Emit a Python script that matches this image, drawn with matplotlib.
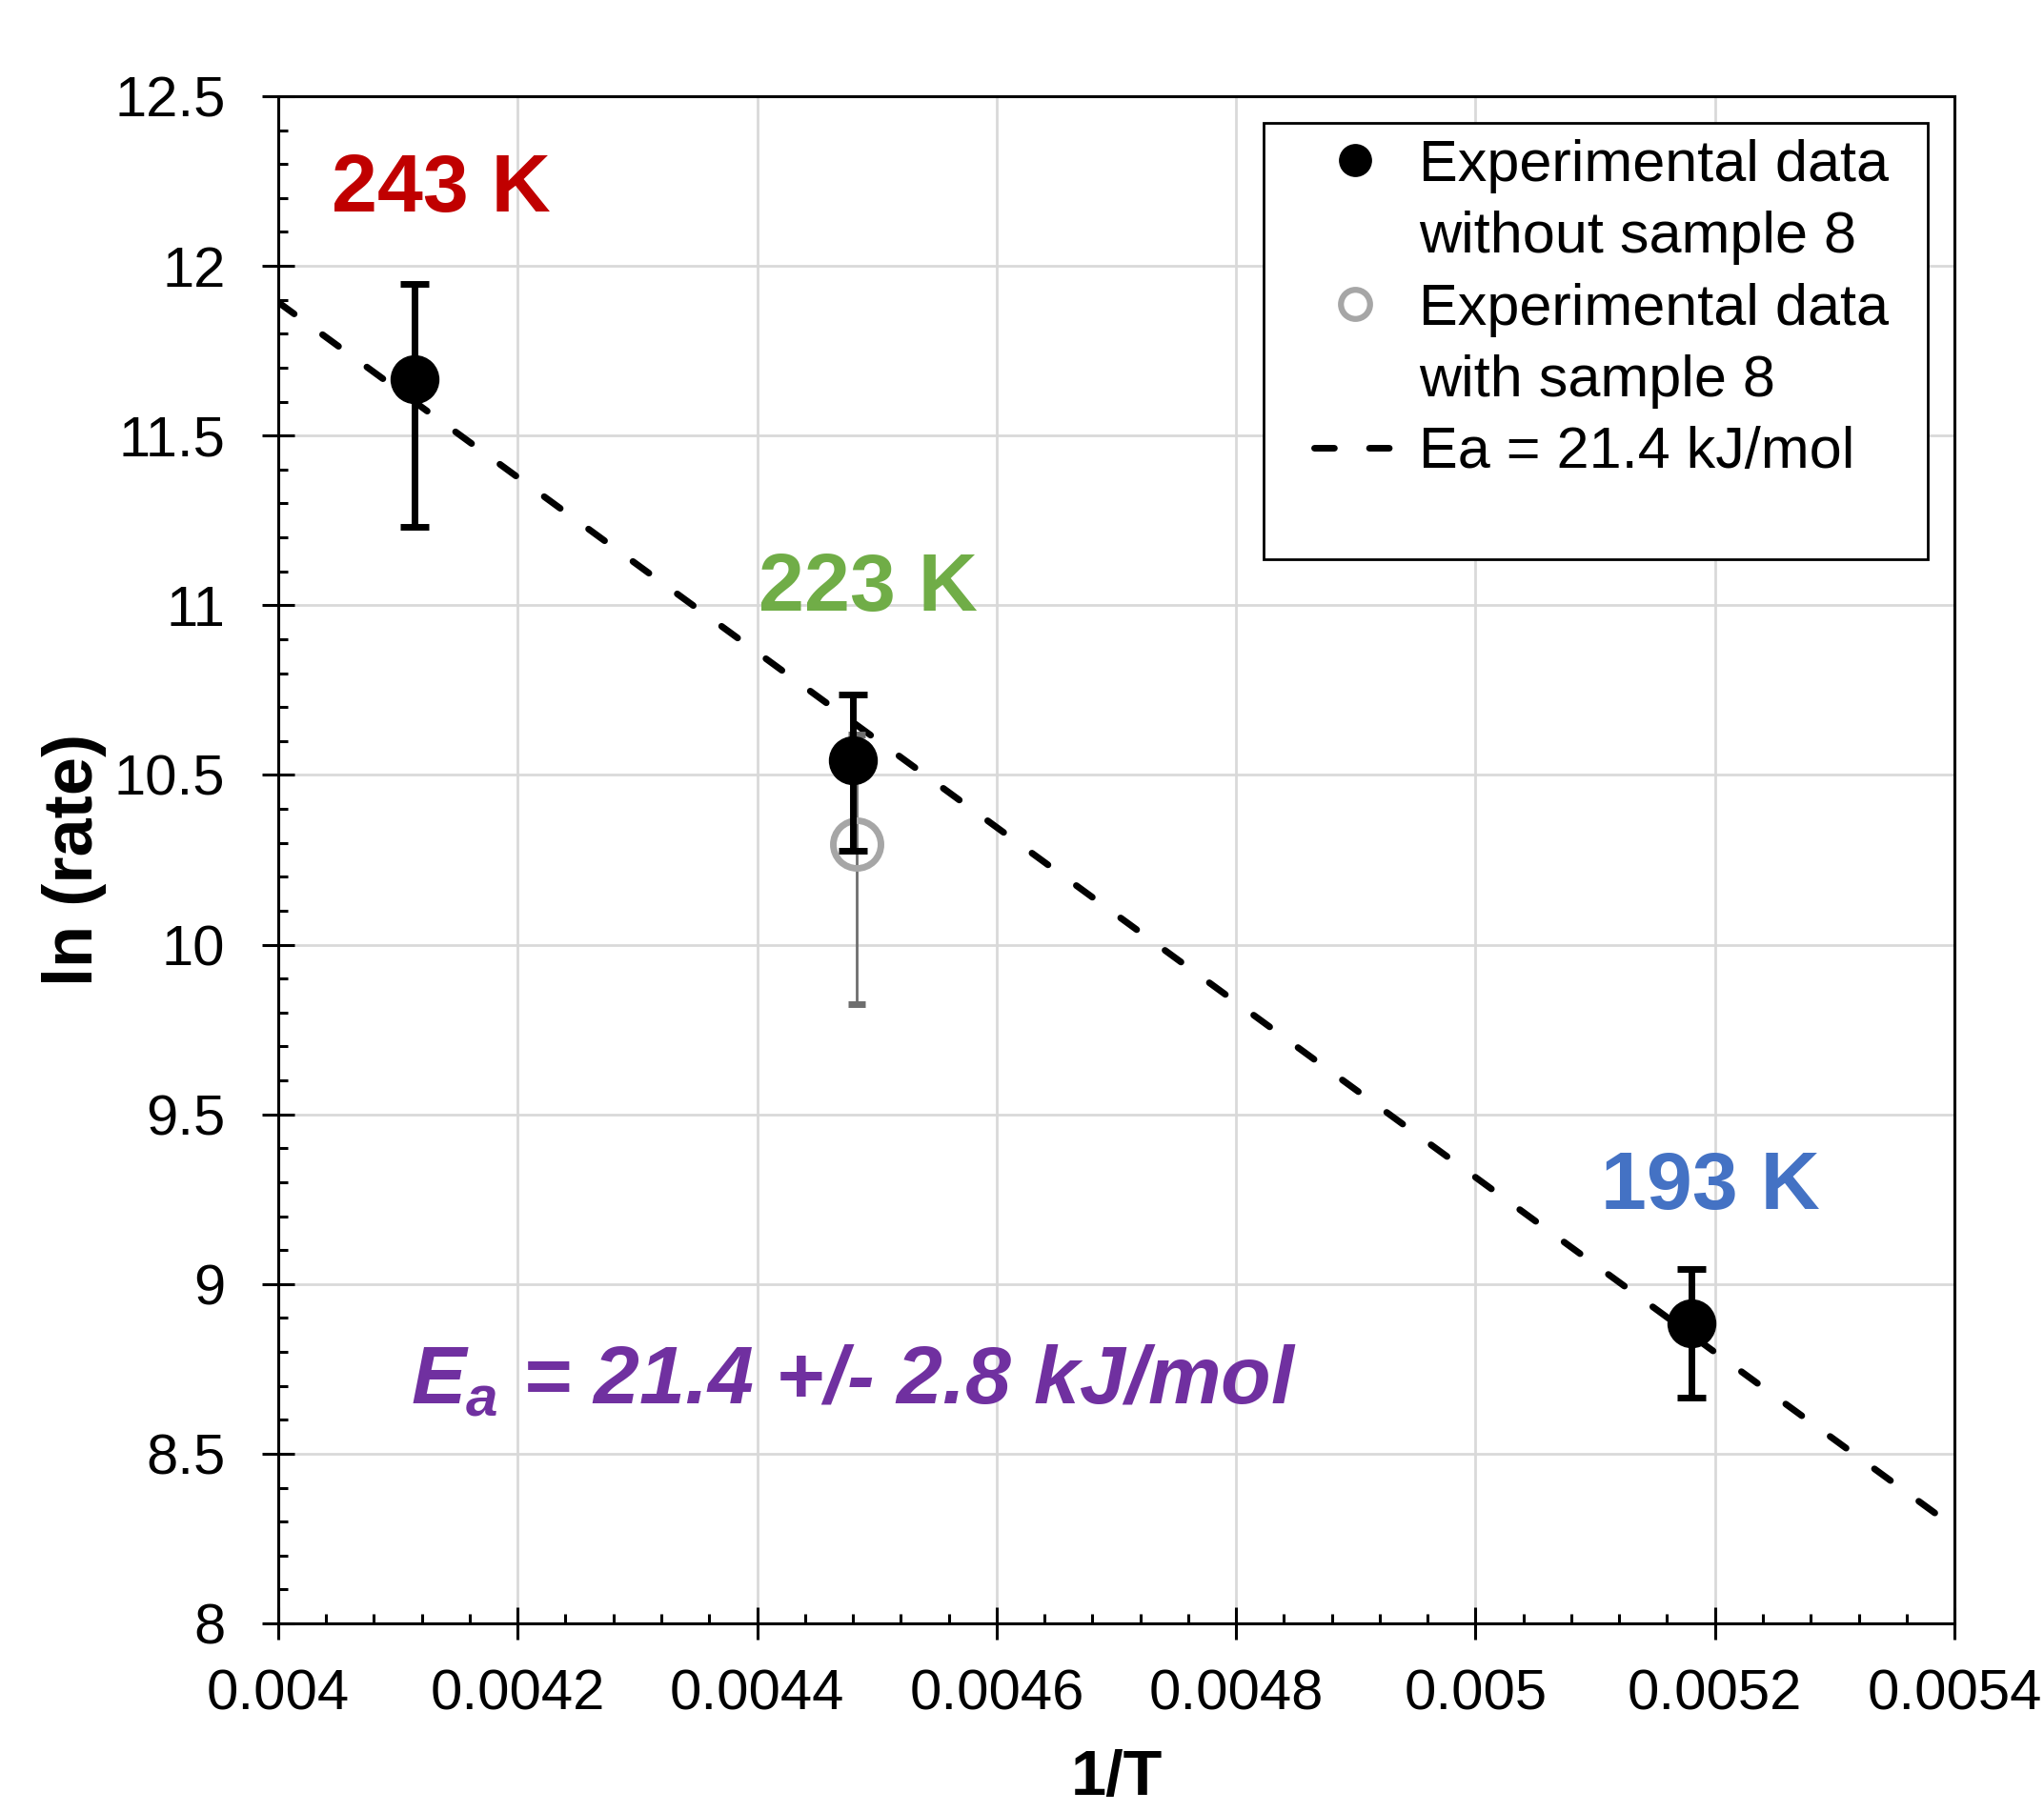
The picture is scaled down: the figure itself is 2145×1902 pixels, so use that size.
import matplotlib
matplotlib.use('Agg')
from matplotlib import pyplot as plt
from matplotlib.ticker import MultipleLocator, FuncFormatter
from matplotlib.patches import Rectangle
from matplotlib.lines import Line2D

plt.rcParams['font.family'] = 'Liberation Sans'
plt.rcParams['mathtext.fontset'] = 'custom'
plt.rcParams['mathtext.it'] = 'Liberation Sans:italic:bold'
plt.rcParams['mathtext.rm'] = 'Liberation Sans:bold'
plt.rcParams['mathtext.bf'] = 'Liberation Sans:bold'

# Experimental data without sample 8 (243 K, 223 K, 193 K)
inv_T = [0.004114, 0.00448, 0.00518]
ln_rate = [11.665, 10.542, 8.884]
err_lo = [0.435, 0.264, 0.218]
err_hi = [0.281, 0.194, 0.161]

# 223 K point with sample 8 included
inv_T_s8 = [0.004483]
ln_rate_s8 = [10.296]
err_lo_s8 = [0.471]
err_hi_s8 = [0.323]

# Arrhenius fit (Ea = 21.4 kJ/mol), end points
fit_x = [0.004, 0.0054]
fit_y = [11.893, 8.283]

temp_labels = ['243 K', '223 K', '193 K']
temp_colors = ['#C00000', '#70AD47', '#4472C4']
legend_rows = ['Experimental data', 'without sample 8',
               'Experimental data', 'with sample 8',
               'Ea = 21.4 kJ/mol']
ea_text = r'$E_a$ = 21.4 +/- 2.8 kJ/mol'

# where the temperature labels sit (data coords)
label_xy = [(0.004136, 12.222), (0.004493, 11.045), (0.005196, 9.282)]

DASH = (0, (3.0, 5.3))


def main():
    fig, ax = plt.subplots(figsize=(21.45, 19.02))
    fig.subplots_adjust(left=0.1361, right=0.9562, bottom=0.1041, top=0.9469)

    # fit line
    ax.plot(fit_x, fit_y, color='black', lw=5, ls=DASH,
            dash_capstyle='round', zorder=2)

    # sample 8 point (grey, open)
    ax.errorbar(inv_T_s8, ln_rate_s8, yerr=[err_lo_s8, err_hi_s8], fmt='o',
                ms=36, mfc='none', mec='#A6A6A6', mew=5, ecolor='#6E6E6E',
                elinewidth=2, capsize=6.5, capthick=2.5, zorder=3)

    # main points
    ax.errorbar(inv_T, ln_rate, yerr=[err_lo, err_hi], fmt='o', ms=36,
                color='black', elinewidth=5, capsize=10.5, capthick=5,
                zorder=4)

    # temperature labels
    for (x, y), txt, c in zip(label_xy, temp_labels, temp_colors):
        ax.text(x, y, txt, color=c, fontsize=62, fontweight='bold',
                ha='center', va='center')

    ax.text(0.004111, 8.71, ea_text, color='#7030A0', fontsize=62,
            fontweight='bold', style='italic', ha='left', va='center')

    # axes
    ax.set_xlim(0.004, 0.0054)
    ax.set_ylim(8, 12.5)
    ax.xaxis.set_major_locator(MultipleLocator(0.0002))
    ax.xaxis.set_minor_locator(MultipleLocator(0.00004))
    ax.yaxis.set_major_locator(MultipleLocator(0.5))
    ax.yaxis.set_minor_locator(MultipleLocator(0.1))
    fmt = FuncFormatter(lambda v, p: '%g' % round(v, 6))
    ax.xaxis.set_major_formatter(fmt)
    ax.yaxis.set_major_formatter(fmt)

    ax.tick_params(which='major', direction='inout', length=24, width=2.2,
                   labelsize=43)
    ax.tick_params(axis='x', which='major', pad=22)
    ax.tick_params(axis='y', which='major', pad=28)
    ax.tick_params(which='minor', direction='in', length=7, width=2.2)

    ax.grid(True, which='major', color='#D9D9D9', lw=2)
    ax.set_axisbelow(True)
    for side in ['bottom', 'left', 'top', 'right']:
        ax.spines[side].set_linewidth(2.2)

    ax.set_xlabel('1/T', fontsize=48, fontweight='bold')
    ax.set_ylabel('ln (rate)', fontsize=52, fontweight='bold')
    ax.xaxis.set_label_coords(0.5, -0.1017)
    ax.yaxis.set_label_coords(-0.1217, 0.5)
    ax.xaxis.label.set_va('center')
    ax.yaxis.label.set_va('center')

    # legend box (Excel style, with empty space at the bottom)
    ax.add_patch(Rectangle((0.5878, 0.6968), 0.3963, 0.2857,
                           transform=ax.transAxes, fc='white', ec='black',
                           lw=2, zorder=4))
    blank = Line2D([], [], ls='none', marker='none')
    handles = [
        Line2D([], [], marker='o', color='black', ls='none', ms=24),
        blank,
        Line2D([], [], marker='o', mfc='none', mec='#A6A6A6', mew=4.5,
               ls='none', ms=22),
        blank,
        Line2D([], [], color='black', lw=5, ls=DASH, dash_capstyle='round'),
    ]
    ax.legend(handles, legend_rows, loc='upper left',
              bbox_to_anchor=(0.618, 0.972), frameon=False, fontsize=44,
              handlelength=1.4, handletextpad=0.4, labelspacing=0.3,
              borderpad=0, borderaxespad=0)

    fig.savefig('out.png', dpi=100)


if __name__ == '__main__':
    main()
